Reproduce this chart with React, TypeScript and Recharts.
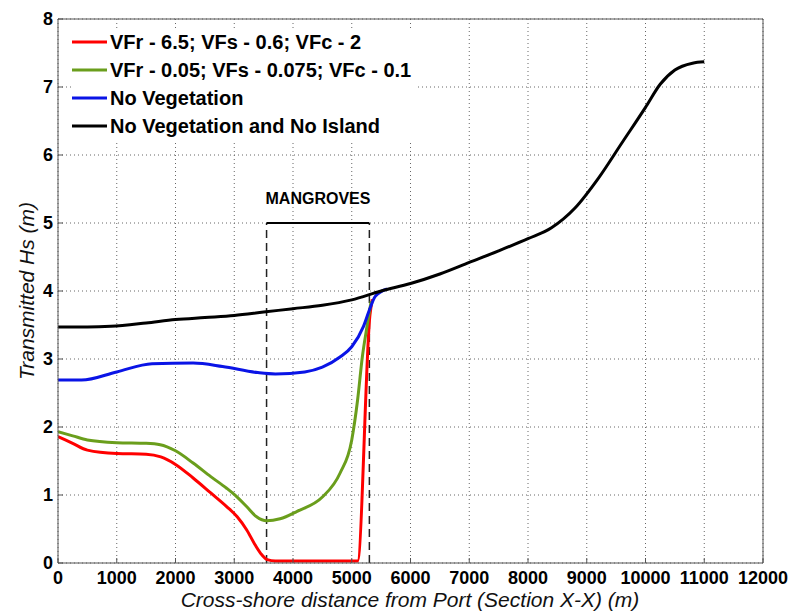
import React from 'react';
import {
  LineChart,
  Line,
  XAxis,
  YAxis,
  CartesianGrid,
  Legend,
  ReferenceLine,
  Label,
} from 'recharts';

const FONT = '"Liberation Sans", Arial, Helvetica, sans-serif';

const xTicks = [0, 1000, 2000, 3000, 4000, 5000, 6000, 7000, 8000, 9000, 10000, 11000, 12000];
const yTicks = [0, 1, 2, 3, 4, 5, 6, 7, 8];

// VFr - 6.5; VFs - 0.6; VFc - 2
const redX = [0, 250, 500, 1000, 1500, 1750, 2000, 2300, 2600, 2870, 3050, 3210, 3360, 3470, 3560, 3700, 4000, 4500, 5000, 5100, 5310, 5350];
const redY = [1.86, 1.76, 1.66, 1.61, 1.6, 1.56, 1.45, 1.25, 1.03, 0.83, 0.68, 0.49, 0.26, 0.12, 0.05, 0.03, 0.03, 0.03, 0.03, 0.03, 3.65, 3.88];

// VFr - 0.05; VFs - 0.075; VFc - 0.1
const greenX = [0, 250, 500, 1000, 1500, 1740, 2000, 2300, 2600, 2870, 3050, 3210, 3380, 3550, 3780, 4070, 4500, 4800, 5000, 5100, 5180, 5260, 5330];
const greenY = [1.93, 1.87, 1.81, 1.77, 1.76, 1.74, 1.65, 1.47, 1.27, 1.1, 0.97, 0.83, 0.68, 0.62, 0.65, 0.76, 0.97, 1.32, 1.81, 2.4, 3.03, 3.48, 3.85];

// No Vegetation
const blueX = [0, 400, 1000, 1600, 2300, 2800, 3400, 3700, 4200, 4500, 4800, 5000, 5200, 5300, 5400, 5600];
const blueY = [2.69, 2.69, 2.81, 2.93, 2.94, 2.89, 2.8, 2.78, 2.81, 2.88, 3.03, 3.18, 3.48, 3.72, 3.92, 4.03];

// No Vegetation and No Island
const blackX = [0, 500, 900, 1500, 2000, 2500, 3000, 3500, 4000, 4500, 5000, 5500, 6000, 6500, 7000, 7500, 8000, 8400, 8800, 9200, 9600, 10000, 10250, 10500, 10800, 11000];
const blackY = [3.47, 3.47, 3.48, 3.53, 3.58, 3.61, 3.64, 3.69, 3.74, 3.79, 3.87, 4.0, 4.11, 4.25, 4.42, 4.59, 4.77, 4.93, 5.22, 5.66, 6.18, 6.7, 7.04, 7.25, 7.35, 7.37];

const mangroveStart = 3550;
const mangroveEnd = 5300;
const mangroveTop = 5;

const toPoints = (xs: number[], ys: number[]) => xs.map((x, i) => ({ x, y: ys[i] }));

const series = [
  { name: 'VFr - 6.5; VFs - 0.6; VFc - 2', color: '#ff0000', data: toPoints(redX, redY) },
  { name: 'VFr - 0.05; VFs - 0.075; VFc - 0.1', color: '#6a9e1c', data: toPoints(greenX, greenY) },
  { name: 'No Vegetation', color: '#0a14e6', data: toPoints(blueX, blueY) },
  { name: 'No Vegetation and No Island', color: '#000000', data: toPoints(blackX, blackY) },
];

const tickStyle = { fontSize: 18, fontWeight: 'bold', fill: '#000', fontFamily: FONT };
const AXIS = '#555';

const LegendBox = () => (
  <div style={{ background: '#fff', padding: '0 6px 2px 0', fontFamily: FONT }}>
    {series.map((s) => (
      <div key={s.name} style={{ display: 'flex', alignItems: 'center', height: 28 }}>
        <svg width={35} height={6} style={{ marginRight: 3 }}>
          <line x1={0} y1={3} x2={35} y2={3} stroke={s.color} strokeWidth={3} />
        </svg>
        <span style={{ fontSize: 20, fontWeight: 'bold', color: '#000', whiteSpace: 'nowrap' }}>{s.name}</span>
      </div>
    ))}
  </div>
);

export default function App() {
  return (
    <LineChart width={787} height={605} margin={{ top: 10, right: 31, bottom: 0, left: 0 }}>
      <CartesianGrid stroke="#666" strokeDasharray="1 3" />
      <XAxis
        dataKey="x"
        type="number"
        domain={[0, 12000]}
        ticks={xTicks}
        allowDataOverflow
        height={50}
        tick={tickStyle}
        tickSize={-5}
        tickMargin={13}
        stroke={AXIS}
        interval={0}
      >
        <Label
          content={() => (
            <text x={402} y={599} textAnchor="middle" fontFamily={FONT} fontSize={21} fontStyle="italic" fill="#111">
              Cross-shore distance from Port (Section X-X) (m)
            </text>
          )}
        />
      </XAxis>
      <XAxis
        xAxisId="top"
        orientation="top"
        type="number"
        domain={[0, 12000]}
        ticks={xTicks}
        height={1}
        tickSize={-5}
        tickFormatter={() => ''}
        stroke={AXIS}
        interval={0}
      />
      <YAxis
        type="number"
        domain={[0, 8]}
        ticks={yTicks}
        width={50}
        tick={tickStyle}
        tickSize={-5}
        tickMargin={10}
        stroke={AXIS}
        interval={0}
      >
        <Label
          content={() => (
            <text
              x={18}
              y={283}
              transform="rotate(-90 18 283)"
              textAnchor="middle"
              dominantBaseline="central"
              fontFamily={FONT}
              fontSize={21}
              fontStyle="italic"
              fill="#111"
            >
              Transmitted Hs (m)
            </text>
          )}
        />
      </YAxis>
      <YAxis
        yAxisId="right"
        orientation="right"
        type="number"
        domain={[0, 8]}
        ticks={yTicks}
        width={1}
        tickSize={-5}
        tickFormatter={() => ''}
        stroke={AXIS}
        interval={0}
      />
      <ReferenceLine
        segment={[{ x: mangroveStart, y: 0 }, { x: mangroveStart, y: mangroveTop }]}
        stroke="#222"
        strokeWidth={1.5}
        strokeDasharray="8 5"
      />
      <ReferenceLine
        segment={[{ x: mangroveEnd, y: 0 }, { x: mangroveEnd, y: mangroveTop }]}
        stroke="#222"
        strokeWidth={1.5}
        strokeDasharray="8 5"
      />
      <ReferenceLine
        segment={[{ x: mangroveStart, y: mangroveTop }, { x: mangroveEnd, y: mangroveTop }]}
        stroke="#000"
        strokeWidth={2}
        label={{
          value: 'MANGROVES',
          position: 'top',
          offset: 19,
          fontSize: 16,
          fontWeight: 'bold',
          fill: '#000',
          fontFamily: FONT,
        }}
      />
      {series.map((s) => (
        <Line
          key={s.name}
          data={s.data}
          dataKey="y"
          name={s.name}
          type="monotone"
          stroke={s.color}
          strokeWidth={3}
          dot={false}
          activeDot={false}
          isAnimationActive={false}
        />
      ))}
      <Legend
        layout="vertical"
        align="center"
        verticalAlign="middle"
        content={() => <LegendBox />}
        wrapperStyle={{ left: 64, top: 20, width: 'auto' }}
      />
    </LineChart>
  );
}
